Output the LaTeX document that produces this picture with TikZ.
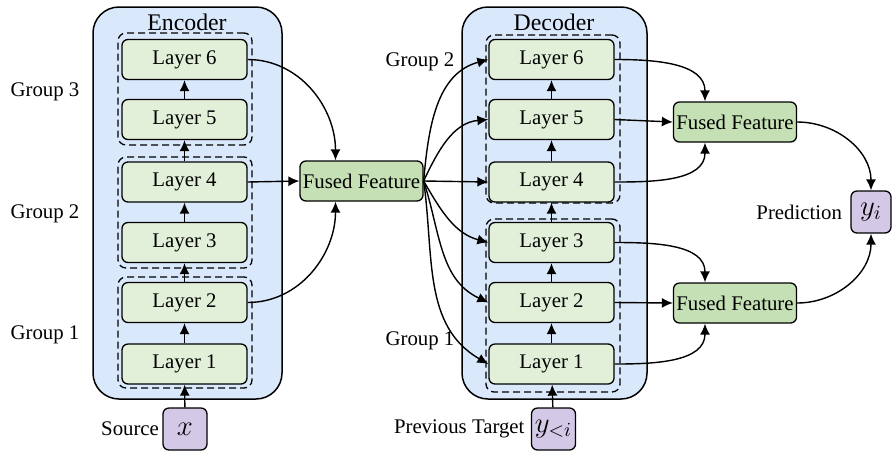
\documentclass[tikz,border=0pt]{standalone}
\usepackage{fontspec}
\setmainfont{Liberation Serif}
\usetikzlibrary{arrows.meta}
\definecolor{bluebg}{HTML}{DAE8FC}
\definecolor{layergreen}{HTML}{E2F0D9}
\definecolor{fusegreen}{HTML}{C5E0B4}
\definecolor{purp}{HTML}{D3C8E6}
\begin{document}
\begin{tikzpicture}[x=0.5pt,y=-0.5pt,
  font=\fontsize{10.4}{12}\selectfont,
  outerbox/.style={draw, line width=0.75pt, fill=bluebg, rounded corners=13pt, minimum width=#1, minimum height=196pt, inner sep=0pt},
  grp/.style={draw, dash pattern=on 3.5pt off 2pt, line width=0.65pt, rounded corners=4pt, inner sep=0pt},
  layer/.style={draw, line width=0.65pt, fill=layergreen, rounded corners=3pt, minimum width=62.5pt, minimum height=20pt, inner sep=0pt},
  fused/.style={draw, line width=0.65pt, fill=fusegreen, rounded corners=3pt, minimum width=61.5pt, minimum height=20pt, inner sep=0pt},
  tok/.style={draw, line width=0.65pt, fill=purp, rounded corners=3pt, minimum width=#1, minimum height=21pt, inner sep=0pt, font=\fontsize{14}{16}\selectfont},
  arr/.style={-{Latex[length=5.5pt,width=5pt]}, line width=0.7pt},
  lbl/.style={inner sep=0pt}
]
\path[use as bounding box] (0,0) rectangle (892,451);

% outer boxes
\node[outerbox=94.5pt] (enc) at (187.5,203) {};
\node[outerbox=92.5pt] (dec) at (554.5,203) {};
\node[lbl, font=\fontsize{11.9}{13}\selectfont] (enclbl) at (187,22) {Encoder};
\node[lbl, font=\fontsize{11.9}{13}\selectfont] (declbl) at (554,22) {Decoder};

% dashed groups
\node[grp, minimum width=67pt, minimum height=56pt] (eg3) at (185,89) {};
\node[grp, minimum width=67pt, minimum height=55.5pt] (eg2) at (185,212.5) {};
\node[grp, minimum width=67pt, minimum height=55.5pt] (eg1) at (185,332.5) {};
\node[grp, minimum width=67pt, minimum height=84pt] (dg2) at (553,119) {};
\node[grp, minimum width=67pt, minimum height=86.5pt] (dg1) at (553,305.5) {};

% encoder layers
\node[layer] (e6) at (184.5,59.5) {Layer 6};
\node[layer] (e5) at (184.5,119.5) {Layer 5};
\node[layer] (e4) at (184.5,182) {Layer 4};
\node[layer] (e3) at (184.5,242.5) {Layer 3};
\node[layer] (e2) at (184.5,302.5) {Layer 2};
\node[layer] (e1) at (184.5,364) {Layer 1};

% decoder layers
\node[layer] (d6) at (551.5,59.5) {Layer 6};
\node[layer] (d5) at (551.5,119.5) {Layer 5};
\node[layer] (d4) at (551.5,182) {Layer 4};
\node[layer] (d3) at (551.5,242.5) {Layer 3};
\node[layer] (d2) at (551.5,302.5) {Layer 2};
\node[layer] (d1) at (551.5,364) {Layer 1};

% tokens
\node[tok=22pt] (src) at (185,429) {$x$};
\node[tok=22pt] (tgt) at (553.5,429) {$y_{<i}$};
\node[tok=20pt] (pred) at (871,212) {$y_i$};
\node[lbl, anchor=east] (srclbl) at ([xshift=-1.5pt]src.west) {Source};
\node[lbl, anchor=east] (tgtlbl) at ([xshift=-3pt]tgt.west) {Previous Target};
\node[lbl, anchor=east] (predlbl) at ([xshift=-4pt]pred.west) {Prediction};

% fused features
\node[fused] (fm) at (361.5,181) {Fused Feature};
\node[fused] (ft) at (735,122) {Fused Feature};
\node[fused] (fb) at (735,303) {Fused Feature};

% group labels
\node[lbl] (gl3) at (45,92) {Group 3};
\node[lbl] (gl2) at (45,214) {Group 2};
\node[lbl] (gl1) at (45,335) {Group 1};
\node[lbl] (gd2) at (420,62) {Group 2};
\node[lbl] (gd1) at (420,341) {Group 1};

% vertical arrows
\draw[arr] (src) -- (e1);
\draw[arr] (e1) -- (e2);
\draw[arr] (e2) -- (e3);
\draw[arr] (e3) -- (e4);
\draw[arr] (e4) -- (e5);
\draw[arr] (e5) -- (e6);
\draw[arr] (tgt) -- (d1);
\draw[arr] (d1) -- (d2);
\draw[arr] (d2) -- (d3);
\draw[arr] (d3) -- (d4);
\draw[arr] (d4) -- (d5);
\draw[arr] (d5) -- (d6);

% encoder to fused
\draw[arr] (e6.east) to[out=0,in=90] ([xshift=-13pt]fm.north);
\draw[arr] (e4.east) -- (fm.west);
\draw[arr] (e2.east) to[out=0,in=-90] ([xshift=-13pt]fm.south);

% fused to decoder
\draw[arr] (fm.east) to[out=85,in=195] (d6.west);
\draw[arr] (fm.east) to[out=65,in=185] (d5.west);
\draw[arr] (fm.east) -- (d4.west);
\draw[arr] (fm.east) to[out=-60,in=165] (d3.west);
\draw[arr] (fm.east) to[out=-72,in=155] (d2.west);
\draw[arr] (fm.east) to[out=-82,in=150] (d1.west);

% decoder to fused
\draw[arr] (d6.east) to[out=0,in=90] ([xshift=-15pt]ft.north);
\draw[arr] (d5.east) -- (ft.west);
\draw[arr] (d4.east) to[out=0,in=-90] ([xshift=-15pt]ft.south);
\draw[arr] (d3.east) to[out=0,in=90] ([xshift=-15pt]fb.north);
\draw[arr] (d2.east) -- (fb.west);
\draw[arr] (d1.east) to[out=0,in=-90] ([xshift=-15pt]fb.south);

% fused to prediction
\draw[arr] (ft.east) to[out=0,in=90] (pred.north);
\draw[arr] (fb.east) to[out=0,in=-90] (pred.south);
\end{tikzpicture}
\end{document}
